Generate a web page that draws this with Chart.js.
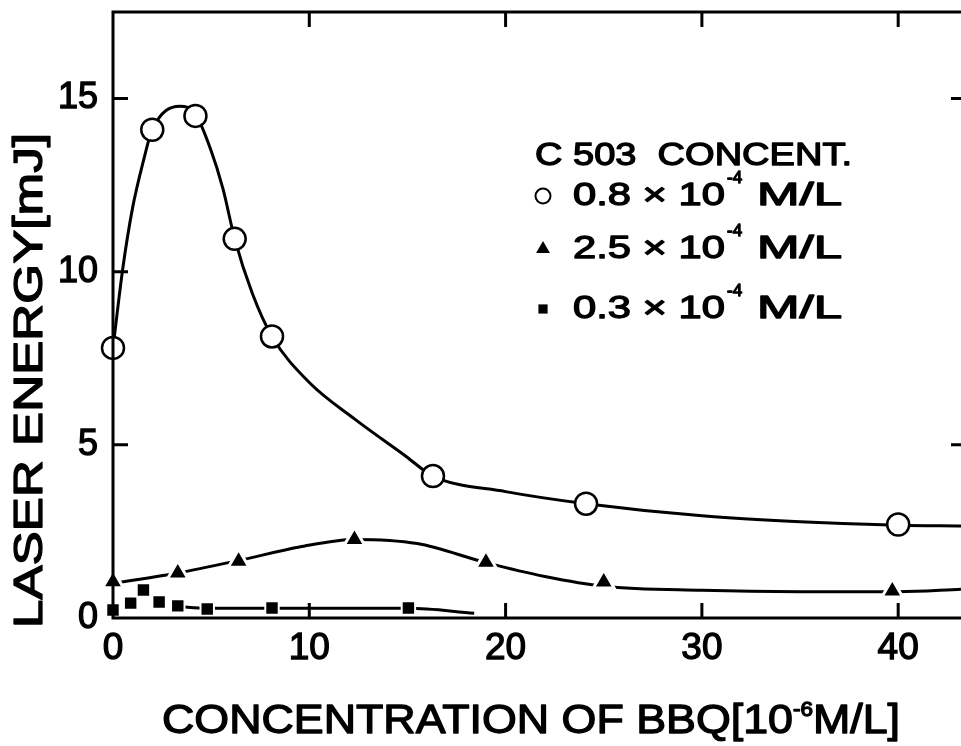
<!DOCTYPE html>
<html>
<head>
<meta charset="utf-8">
<script src="https://cdn.jsdelivr.net/npm/chart.js@4.4.1/dist/chart.umd.min.js"></script>
<style>
  html, body { margin: 0; padding: 0; background: #fff; }
  #wrap { width: 961px; height: 746px; }
</style>
</head>
<body>
<div id="wrap"><canvas id="grafico" width="961" height="746"></canvas></div>
<script>
// Valores (BBQ en 10^-6 M/L, energía en mJ)
const bbqCirculo = [0, 2.0, 4.2, 6.2, 8.1, 16.3, 24.1, 40];
const energiaCirculo = [7.8, 14.1, 14.5, 10.95, 8.13, 4.1, 3.3, 2.7];

const bbqTriangulo = [0, 3.3, 6.4, 12.3, 19.0, 25.0, 39.7];
const energiaTriangulo = [1.05, 1.3, 1.64, 2.27, 1.61, 1.04, 0.78];

const bbqCuadrado = [0, 0.9, 1.55, 2.35, 3.3, 4.8, 8.1, 15.05];
const energiaCuadrado = [0.23, 0.43, 0.81, 0.46, 0.35, 0.26, 0.29, 0.29];

// Curvas dibujadas a mano en el original
const curvaCirculoX = [0, 0.5, 1.0, 1.55, 2.0, 3.4, 4.2, 4.95, 5.6, 6.2, 7.1, 8.1, 10, 12.3, 14.9, 16.3, 20, 24.1, 30, 35, 40, 43.2];
const curvaCirculoY = [7.8, 10.1, 11.85, 13.2, 14.1, 14.78, 14.55, 13.57, 12.4, 10.95, 9.37, 8.13, 6.8, 5.75, 4.68, 4.1, 3.65, 3.3, 2.95, 2.78, 2.68, 2.66];

const curvaTrianguloX = [0, 3.3, 6.4, 9.5, 12.3, 15.5, 19.0, 22, 25.0, 30, 35, 40, 43.2];
const curvaTrianguloY = [1.0, 1.3, 1.66, 2.05, 2.27, 2.15, 1.6, 1.2, 0.92, 0.8, 0.76, 0.76, 0.83];

const curvaCuadradoX = [3.3, 4.8, 8.1, 15.05, 18.4];
const curvaCuadradoY = [0.33, 0.28, 0.28, 0.28, 0.14];

const ticksX = [0, 10, 20, 30, 40];
const ticksY = [0, 5, 10, 15];

const fuente = "'Liberation Sans', Arial, sans-serif";

const puntos = (xs, ys) => xs.map((x, i) => ({ x: x, y: ys[i] }));

// Dibuja trozos de texto ajustados a un ancho dado (relleno + trazo fino)
function textoAjustado(ctx, piezas, x, y, ancho) {
  let total = 0;
  piezas.forEach(p => {
    ctx.font = p.font;
    p.w = ctx.measureText(p.t).width;
    total += p.w + (p.gap || 0);
  });
  const k = ancho ? ancho / total : 1;
  ctx.save();
  ctx.translate(x, y);
  ctx.scale(k, 1);
  ctx.strokeStyle = '#000';
  ctx.lineWidth = 1.3;
  ctx.lineJoin = 'round';
  let cx = 0;
  piezas.forEach(p => {
    ctx.font = p.font;
    ctx.fillText(p.t, cx, p.dy || 0);
    ctx.strokeText(p.t, cx, p.dy || 0);
    cx += p.w + (p.gap || 0);
  });
  ctx.restore();
}

// Marco con marcas hacia dentro y títulos
const marco = {
  id: 'marco',
  afterDatasetsDraw(chart) {
    const ctx = chart.ctx;
    const a = chart.chartArea;
    const sx = chart.scales.x, sy = chart.scales.y;
    ctx.save();
    ctx.strokeStyle = '#000';
    ctx.lineWidth = 3;
    ctx.lineCap = 'butt';
    ctx.beginPath();
    ctx.moveTo(a.left, a.top); ctx.lineTo(a.left, a.bottom);
    ctx.moveTo(a.left - 1.5, a.top); ctx.lineTo(a.right, a.top);
    ctx.moveTo(a.left - 1.5, a.bottom); ctx.lineTo(a.right, a.bottom);
    ticksX.slice(1).forEach(v => {
      const px = sx.getPixelForValue(v);
      ctx.moveTo(px, a.bottom); ctx.lineTo(px, a.bottom - 15);
      ctx.moveTo(px, a.top); ctx.lineTo(px, a.top + 15);
    });
    ticksY.slice(1).forEach(v => {
      const py = sy.getPixelForValue(v);
      ctx.moveTo(a.left, py); ctx.lineTo(a.left + 15, py);
      if (v !== 10) { ctx.moveTo(a.right, py); ctx.lineTo(a.right - 10, py); }
    });
    ctx.stroke();
    ctx.restore();
  },
  afterDraw(chart) {
    const ctx = chart.ctx;
    ctx.save();
    ctx.fillStyle = '#000';
    ctx.textBaseline = 'alphabetic';
    ctx.textAlign = 'left';

    // título eje X
    textoAjustado(ctx, [
      { t: 'CONCENTRATION OF BBQ[10', font: '40px ' + fuente },
      { t: '-6', font: '20px ' + fuente, dy: -17 },
      { t: 'M/L]', font: '40px ' + fuente }
    ], 162, 733, 738);

    // título eje Y
    ctx.save();
    ctx.translate(42, 628);
    ctx.rotate(-Math.PI / 2);
    textoAjustado(ctx, [{ t: 'LASER ENERGY[mJ]', font: '40px ' + fuente }], 0, 0, 495);
    ctx.restore();

    // leyenda
    textoAjustado(ctx, [{ t: 'C 503  CONCENT.', font: '31px ' + fuente }], 535, 165, 317);
    const filas = [
      { txt: '0.8 \u00d7 10', y: 205, estilo: 'circle', r: 7.5, fondo: '#fff' },
      { txt: '2.5 \u00d7 10', y: 258, estilo: 'triangle', r: 8, fondo: '#000' },
      { txt: '0.3 \u00d7 10', y: 318, estilo: 'rect', r: 6.5, fondo: '#000' }
    ];
    filas.forEach(f => {
      ctx.fillStyle = f.fondo;
      ctx.strokeStyle = '#000';
      ctx.lineWidth = 2;
      Chart.helpers.drawPoint(ctx, { pointStyle: f.estilo, radius: f.r, rotation: 0, borderWidth: f.estilo === 'circle' ? 2 : 0 }, 543, f.y - 9);
      ctx.fillStyle = '#000';
      textoAjustado(ctx, [{ t: f.txt, font: '32px ' + fuente }], 573, f.y, 152);
      textoAjustado(ctx, [{ t: '-4', font: '17px ' + fuente }], 727, f.y - 22, 0);
      textoAjustado(ctx, [{ t: 'M/L', font: '32px ' + fuente }], 757, f.y, 85);
    });
    ctx.restore();
  }
};

const ctx = document.getElementById('grafico').getContext('2d');
new Chart(ctx, {
  type: 'scatter',
  data: {
    datasets: [
      {
        label: 'curva 0.8',
        type: 'line',
        data: puntos(curvaCirculoX, curvaCirculoY),
        borderColor: '#000', borderWidth: 3, pointRadius: 0,
        cubicInterpolationMode: 'monotone', fill: false, order: 2
      },
      {
        label: 'curva 2.5',
        type: 'line',
        data: puntos(curvaTrianguloX, curvaTrianguloY),
        borderColor: '#000', borderWidth: 3, pointRadius: 0,
        cubicInterpolationMode: 'monotone', fill: false, order: 2
      },
      {
        label: 'curva 0.3',
        type: 'line',
        data: puntos(curvaCuadradoX, curvaCuadradoY),
        borderColor: '#000', borderWidth: 3, pointRadius: 0,
        cubicInterpolationMode: 'monotone', fill: false, order: 2
      },
      {
        label: '0.8 x 10^-4 M/L',
        data: puntos(bbqCirculo, energiaCirculo),
        pointStyle: 'circle', pointRadius: 11,
        backgroundColor: '#fff', borderColor: '#000', borderWidth: 2.5,
        clip: false, order: 1
      },
      {
        label: '2.5 x 10^-4 M/L',
        data: puntos(bbqTriangulo, energiaTriangulo),
        pointStyle: 'triangle', pointRadius: 12,
        backgroundColor: '#000', borderColor: '#fff', borderWidth: 3,
        clip: false, order: 1
      },
      {
        label: '0.3 x 10^-4 M/L',
        data: puntos(bbqCuadrado, energiaCuadrado),
        pointStyle: 'rect', pointRadius: 9.5,
        backgroundColor: '#000', borderColor: '#fff', borderWidth: 2,
        clip: false, order: 1
      }
    ]
  },
  options: {
    responsive: false,
    animation: false,
    layout: { autoPadding: false, padding: { top: 12, left: 0, right: 0, bottom: 0 } },
    plugins: {
      legend: { display: false },
      tooltip: { enabled: false }
    },
    scales: {
      x: {
        type: 'linear',
        min: 0,
        max: 43.2,
        afterBuildTicks: s => { s.ticks = ticksX.map(v => ({ value: v })); },
        afterFit: s => { s.height = 128; s.paddingLeft = 0; s.paddingRight = 0; },
        grid: { display: false },
        border: { display: false },
        ticks: {
          color: '#000', font: { family: fuente, size: 37 }, padding: 1, maxRotation: 0,
          textStrokeColor: '#000', textStrokeWidth: 1.3
        }
      },
      y: {
        min: 0,
        max: 17.5,
        afterBuildTicks: s => { s.ticks = ticksY.map(v => ({ value: v })); },
        afterFit: s => { s.width = 113; s.paddingTop = 0; s.paddingBottom = 0; },
        grid: { display: false },
        border: { display: false },
        ticks: {
          color: '#000', font: { family: fuente, size: 36 }, padding: 7,
          textStrokeColor: '#000', textStrokeWidth: 1.3
        }
      }
    }
  },
  plugins: [marco]
});
</script>
</body>
</html>
